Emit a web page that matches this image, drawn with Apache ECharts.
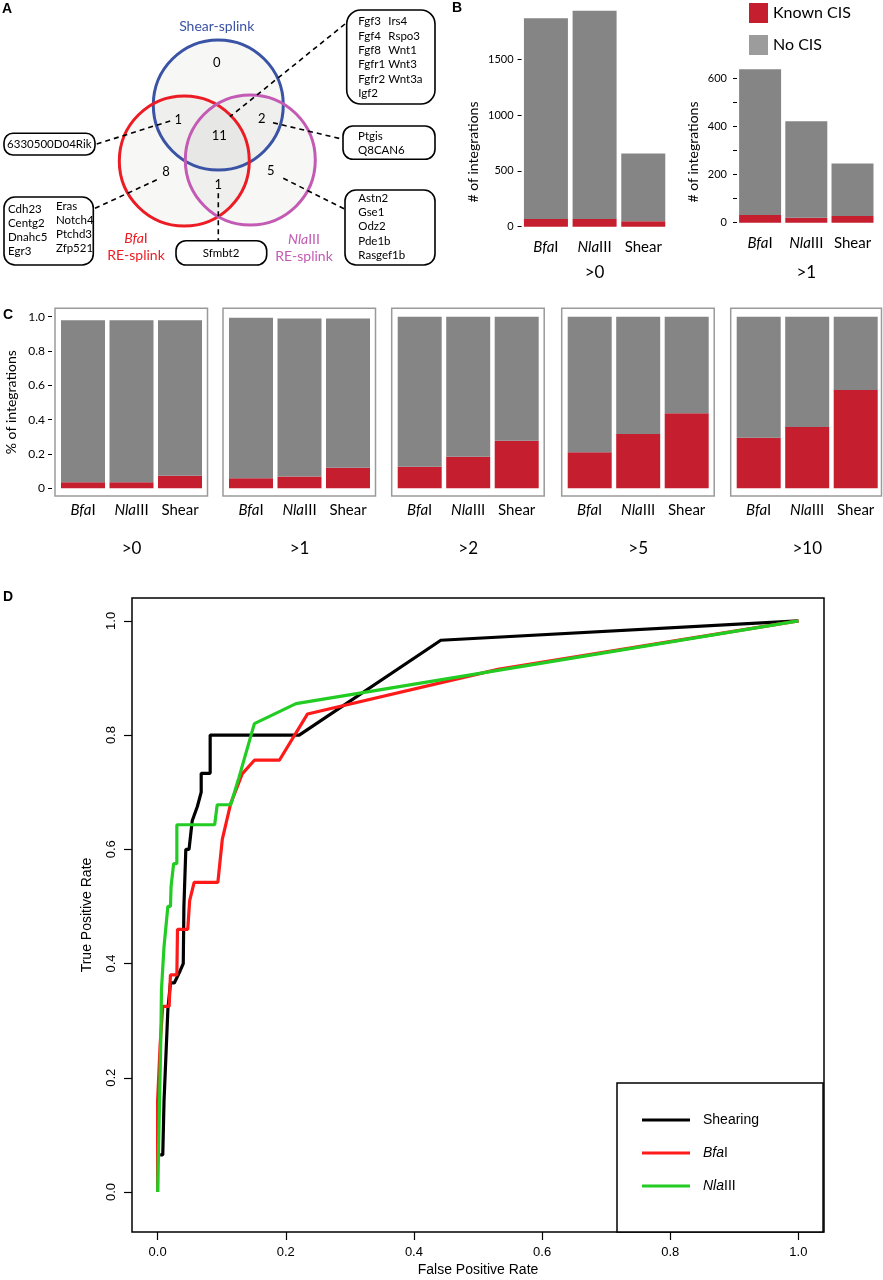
<!DOCTYPE html>
<html><head><meta charset="utf-8">
<script src="https://cdn.jsdelivr.net/npm/echarts@6/dist/echarts.min.js"></script>
<style>html,body{margin:0;padding:0;background:#fff}#c{width:883px;height:1280px}</style>
</head><body><div id="c"></div>
<script>
// ---------------- data ----------------
// Venn (panel A): regions in order shearOnly, shear&BfaI, all, shear&NlaIII, BfaIOnly, BfaI&NlaIII, NlaIIIOnly
const vennCounts = [0, 1, 11, 2, 8, 1, 5];
const genesAll = ['Fgf3','Fgf4','Fgf8','Fgfr1','Fgfr2','Igf2','Irs4','Rspo3','Wnt1','Wnt3','Wnt3a'];
const genesShearBfa = ['6330500D04Rik'];
const genesShearNla = ['Ptgis','Q8CAN6'];
const genesBfaOnly = ['Cdh23','Centg2','Dnahc5','Egr3','Eras','Notch4','Ptchd3','Zfp521'];
const genesBfaNla = ['Sfmbt2'];
const genesNlaOnly = ['Astn2','Gse1','Odz2','Pde1b','Rasgef1b'];

// Panel B / C
const enzymes = ['BfaI','NlaIII','Shear'];
const bThresholds = ['>0','>1'];
const bKnown = [[69, 69, 48], [32, 21, 28]];
const bNoCIS = [[1798, 1867, 609], [606, 401, 218]];
const bTicks0 = [0, 500, 1000, 1500];
const bTicks1 = [0, 200, 400, 600];
const bMinor1 = [0, 100, 200, 300, 400, 500, 600];
const cThresholds = ['>0','>1','>2','>5','>10'];
const cKnown = [[0.035,0.035,0.073],[0.058,0.068,0.12],[0.126,0.184,0.277],[0.21,0.316,0.437],[0.295,0.357,0.573]];
const cNoCIS = [[0.945,0.945,0.907],[0.936,0.922,0.87],[0.874,0.816,0.723],[0.79,0.684,0.563],[0.705,0.643,0.427]];
const cTicks = [0, 0.2, 0.4, 0.6, 0.8, 1.0];

// Panel D ROC
const rocNames = ['Shearing','BfaI','NlaIII'];
const rocShearing = [[0.004,0.065],[0.008,0.065],[0.010,0.16],[0.016,0.32],[0.020,0.366],[0.026,0.366],[0.035,0.387],[0.040,0.40],[0.041,0.50],[0.044,0.60],[0.049,0.60],[0.054,0.65],[0.062,0.675],[0.068,0.70],[0.068,0.733],[0.082,0.733],[0.082,0.80],[0.221,0.80],[0.442,0.966],[1,1]];
const rocBfaI = [[0,0],[0,0.16],[0.004,0.26],[0.008,0.325],[0.018,0.325],[0.020,0.38],[0.030,0.38],[0.031,0.46],[0.047,0.46],[0.050,0.51],[0.057,0.542],[0.094,0.542],[0.101,0.618],[0.114,0.68],[0.132,0.732],[0.151,0.756],[0.190,0.756],[0.234,0.837],[0.531,0.915],[1,1]];
const rocNlaIII = [[0,0],[0.002,0.105],[0.005,0.27],[0.006,0.355],[0.009,0.355],[0.010,0.43],[0.0125,0.43],[0.016,0.50],[0.020,0.50],[0.021,0.535],[0.024,0.535],[0.025,0.575],[0.030,0.575],[0.030,0.643],[0.089,0.643],[0.093,0.678],[0.114,0.678],[0.127,0.726],[0.151,0.82],[0.216,0.855],[1,1]];
const dTicks = [0, 0.2, 0.4, 0.6, 0.8, 1.0];

// ---------------- styles ----------------
const F = 'Lato, "Open Sans", sans-serif';
const FD = '"Liberation Sans", Arial, sans-serif';
const RED = '#c41e2f', GRAY = '#858585';
const enzRich = {
  i: {fontStyle: 'italic', fontSize: 15, fontFamily: F, color: '#000'},
  n: {fontSize: 15, fontFamily: F, color: '#000'}
};
function enzFmt(name) {
  if (name === 'BfaI') return '{i|Bfa}{n|I}';
  if (name === 'NlaIII') return '{i|Nla}{n|III}';
  return '{n|' + name + '}';
}

const chart = echarts.init(document.getElementById('c'), null, {renderer: 'canvas'});

const grids = [], xAxes = [], yAxes = [], series = [];

// Panel B grids (0,1)
const bGrid = [{left: 521.6, top: 3.5, width: 146, height: 223.2, max: 2000, bw: 44, gap: 37},
               {left: 737, top: 6.1, width: 138.6, height: 216.6, max: 900, bw: 42, gap: 41}];
bGrid.forEach((g, i) => {
  grids.push({left: g.left, top: g.top, width: g.width, height: g.height, outerBoundsMode: 'none'});
  xAxes.push({type: 'category', gridIndex: i, data: enzymes,
    axisLine: {show: false, onZero: false}, axisTick: {show: false},
    axisLabel: {formatter: enzFmt, rich: enzRich, margin: 13, interval: 0},
    name: bThresholds[i], nameLocation: 'middle', nameGap: g.gap,
    nameTextStyle: {fontSize: 17, fontFamily: F, color: '#000'}});
  const ticks = i === 0 ? bTicks0 : bMinor1;
  const labels = i === 0 ? bTicks0 : bTicks1;
  yAxes.push({type: 'value', gridIndex: i, min: 0, max: g.max,
    axisLine: {show: false, onZero: false}, splitLine: {show: false},
    axisTick: {show: true, customValues: ticks, length: 4, lineStyle: {color: '#000', width: 1}},
    axisLabel: {customValues: labels, formatter: v => String(v), fontSize: 11, fontFamily: F, color: '#000', margin: i === 0 ? 8 : 10}});
  series.push({type: 'bar', name: 'Known CIS', xAxisIndex: i, yAxisIndex: i, stack: 'b' + i,
    data: bKnown[i], barWidth: g.bw, itemStyle: {color: RED}});
  series.push({type: 'bar', name: 'No CIS', xAxisIndex: i, yAxisIndex: i, stack: 'b' + i,
    data: bNoCIS[i], barWidth: g.bw, itemStyle: {color: GRAY}});
});

// Panel C bar grids (2..6)
const cLeft = [55, 223, 391.7, 561.7, 730.7];
const cTop = 308.3, cH = 187.7, cYmin = -0.045, cYmax = 1.049;
cLeft.forEach((l, k) => {
  const gi = 2 + k;
  grids.push({left: l + 3.75, top: cTop, width: 145.5, height: cH, outerBoundsMode: 'none'});
  xAxes.push({type: 'category', gridIndex: gi, data: enzymes,
    axisLine: {show: false, onZero: false}, axisTick: {show: false}, splitLine: {show: false},
    axisLabel: {formatter: enzFmt, rich: enzRich, margin: 7, interval: 0},
    name: cThresholds[k], nameLocation: 'middle', nameGap: 44,
    nameTextStyle: {fontSize: 17, fontFamily: F, color: '#000'}});
  const first = k === 0;
  yAxes.push({type: 'value', gridIndex: gi, min: cYmin, max: cYmax, show: first, offset: 6.75,
    axisLine: {show: false, onZero: false}, splitLine: {show: false},
    axisTick: {show: first, customValues: cTicks, length: 4, lineStyle: {color: '#000', width: 1}},
    axisLabel: {show: first, customValues: cTicks, formatter: v => v === 0 ? '0' : v.toFixed(1),
      fontSize: 12, fontFamily: F, color: '#000', margin: 7},
    name: first ? '% of integrations' : '', nameLocation: 'middle', nameGap: 34,
    nameTextStyle: {fontSize: 14, fontFamily: F, color: '#000'}});
  series.push({type: 'bar', name: 'Known CIS', xAxisIndex: gi, yAxisIndex: gi, stack: 'c' + k,
    data: cKnown[k], barWidth: 44, itemStyle: {color: RED}});
  series.push({type: 'bar', name: 'No CIS', xAxisIndex: gi, yAxisIndex: gi, stack: 'c' + k,
    data: cNoCIS[k], barWidth: 44, itemStyle: {color: GRAY}});
});

// Panel D grid (7)
grids.push({left: 132, top: 598, width: 692, height: 634, show: true, borderColor: '#000', borderWidth: 1.5,
  backgroundColor: 'transparent', outerBoundsMode: 'none'});
xAxes.push({type: 'value', gridIndex: 7, min: -0.04, max: 1.04,
  axisLine: {show: false, onZero: false}, splitLine: {show: false},
  axisTick: {show: true, customValues: dTicks, length: 8, lineStyle: {color: '#000', width: 1.2}},
  axisLabel: {customValues: dTicks, formatter: v => v.toFixed(1), fontSize: 13, fontFamily: FD, color: '#000', margin: 14},
  name: 'False Positive Rate', nameLocation: 'middle', nameGap: 31,
  nameTextStyle: {fontSize: 14, fontFamily: FD, color: '#000'}});
yAxes.push({type: 'value', gridIndex: 7, min: -0.07, max: 1.04,
  axisLine: {show: false, onZero: false}, splitLine: {show: false},
  axisTick: {show: true, customValues: dTicks, length: 8, lineStyle: {color: '#000', width: 1.2}},
  axisLabel: {customValues: dTicks, formatter: v => v.toFixed(1), fontSize: 13, fontFamily: FD, color: '#000', margin: 14, rotate: 90},
  name: 'True Positive Rate', nameLocation: 'middle', nameGap: 38,
  nameTextStyle: {fontSize: 14, fontFamily: FD, color: '#000'}});
const rocData = [rocShearing, rocBfaI, rocNlaIII];
const rocColors = ['#000000', '#ff1a1a', '#22cc22'];
rocNames.forEach((n, i) => {
  series.push({type: 'line', name: n, xAxisIndex: 7, yAxisIndex: 7, data: rocData[i],
    showSymbol: false, symbol: 'none', lineStyle: {color: rocColors[i], width: 3.2},
    itemStyle: {color: rocColors[i]}, z: 2 + i});
});

// Panel C frame grids (8..12), hidden axes
cLeft.forEach((l, k) => {
  const gi = 8 + k;
  grids.push({left: l, top: cTop, width: k === 4 ? 150.8 : 152.5, height: cH, show: true,
    borderColor: '#9a9a9a', borderWidth: 1.5, backgroundColor: 'transparent', outerBoundsMode: 'none'});
  xAxes.push({type: 'value', gridIndex: gi, show: false, min: 0, max: 1});
  yAxes.push({type: 'value', gridIndex: gi, show: false, min: 0, max: 1});
});

// ---------------- graphic: Venn, panel letters, titles ----------------
const G = [];
function txt(text, x, y, o) {
  o = o || {};
  return {type: 'text', x: x, y: y, rotation: o.rotation || 0, z: 10,
    style: Object.assign({text: text, fontSize: 12, fontFamily: F, fill: '#000', align: 'left', verticalAlign: 'middle'}, o.style || {})};
}
[['A', 2, 9], ['B', 452, 8], ['C', 3, 315], ['D', 3, 597]].forEach(p =>
  G.push(txt(p[0], p[1], p[2], {style: {fontWeight: 'bold', fontSize: 14, fontFamily: FD}})));

const circles = [
  {cx: 218.3, cy: 105, color: '#3a53a4'},
  {cx: 184.3, cy: 161, color: '#ec1c24'},
  {cx: 250.3, cy: 160, color: '#c35bb4'}
];
circles.forEach(c => G.push({type: 'circle', shape: {cx: c.cx, cy: c.cy, r: 65}, z: 1,
  style: {fill: 'rgba(120,120,100,0.06)', stroke: 'none'}}));
circles.forEach(c => G.push({type: 'circle', shape: {cx: c.cx, cy: c.cy, r: 65}, z: 3,
  style: {fill: 'none', stroke: c.color, lineWidth: 3}}));
const vennPos = [[216.7, 63.3], [178.3, 120], [219.3, 136], [261.7, 119.3], [166, 171.7], [218.3, 185], [270.7, 170.7]];
vennCounts.forEach((v, i) => G.push(txt(String(v), vennPos[i][0], vennPos[i][1], {style: {fontSize: 13, align: 'center'}})));
G.push(txt('Shear-splink', 216.7, 26, {style: {fontSize: 14, align: 'center', fill: '#3a53a4'}}));
G.push({type: 'text', x: 136, y: 238.5, z: 10, style: {text: '{i|Bfa}{n|I}', align: 'center', verticalAlign: 'middle',
  rich: {i: {fontStyle: 'italic', fontSize: 14, fontFamily: F, fill: '#ec1c24'}, n: {fontSize: 14, fontFamily: F, fill: '#ec1c24'}}}});
G.push(txt('RE-splink', 136, 255.5, {style: {fontSize: 14, align: 'center', fill: '#ec1c24'}}));
G.push({type: 'text', x: 304, y: 239.5, z: 10, style: {text: '{i|Nla}{n|III}', align: 'center', verticalAlign: 'middle',
  rich: {i: {fontStyle: 'italic', fontSize: 14, fontFamily: F, fill: '#c35bb4'}, n: {fontSize: 14, fontFamily: F, fill: '#c35bb4'}}}});
G.push(txt('RE-splink', 304, 256.5, {style: {fontSize: 14, align: 'center', fill: '#c35bb4'}}));
const dash = [[345, 24, 230, 116.7], [96.7, 144, 173.3, 120], [273, 122.7, 343, 139.3], [95, 208.3, 160, 178.3],
              [218.3, 193.3, 218.3, 240.7], [283.3, 178.3, 345, 209.3]];
dash.forEach(d => G.push({type: 'line', z: 4, shape: {x1: d[0], y1: d[1], x2: d[2], y2: d[3]},
  style: {stroke: '#000', lineWidth: 1.6, lineDash: [5, 4]}}));
const boxes = [[346.7, 10, 88.3, 94, 14], [4, 133.3, 91, 21.7, 9], [343, 126, 92, 33.3, 10], [4, 197, 89.3, 68, 11],
               [176, 240.7, 90.7, 24.3, 10], [345, 190, 90, 75, 11]];
boxes.forEach(b => G.push({type: 'rect', z: 5, shape: {x: b[0], y: b[1], width: b[2], height: b[3], r: b[4]},
  style: {fill: '#fff', stroke: '#000', lineWidth: 1.6}}));
const gs = {fontSize: 11.5, verticalAlign: 'top', lineHeight: 14.3};
G.push(txt(genesAll.slice(0, 6).join('\n'), 358.3, 14.5, {style: gs}));
G.push(txt(genesAll.slice(6).join('\n'), 388.3, 14.5, {style: gs}));
G.push(txt(genesShearBfa.join('\n'), 49.3, 144, {style: {fontSize: 11.5, align: 'center'}}));
G.push(txt(genesShearNla.join('\n'), 358, 129, {style: gs}));
G.push(txt(genesBfaOnly.slice(0, 4).join('\n'), 8, 202, {style: Object.assign({}, gs, {lineHeight: 14.2})}));
G.push(txt(genesBfaOnly.slice(4).join('\n'), 56, 199, {style: Object.assign({}, gs, {lineHeight: 14.1})}));
G.push(txt(genesBfaNla.join('\n'), 221, 253, {style: {fontSize: 11.5, align: 'center'}}));
G.push(txt(genesNlaOnly.join('\n'), 358.3, 191.2, {style: Object.assign({}, gs, {lineHeight: 14.2})}));
G.push(txt('# of integrations', 473, 152, {rotation: Math.PI / 2, style: {fontSize: 14, align: 'center'}}));
G.push(txt('# of integrations', 693, 152, {rotation: Math.PI / 2, style: {fontSize: 14, align: 'center'}}));

const legendRich = {
  i: {fontStyle: 'italic', fontSize: 14, fontFamily: FD, color: '#000'},
  n: {fontSize: 14, fontFamily: FD, color: '#000'}
};

chart.setOption({
  animation: false,
  backgroundColor: '#fff',
  grid: grids,
  xAxis: xAxes,
  yAxis: yAxes,
  series: series,
  legend: [
    {data: [{name: 'Known CIS'}, {name: 'No CIS', itemStyle: {color: '#9c9c9c'}}],
     left: 749, top: 3, orient: 'vertical', icon: 'rect', itemWidth: 19, itemHeight: 20, itemGap: 12,
     padding: 0, selectedMode: false, textStyle: {fontSize: 16, fontFamily: F, color: '#000'}},
    {data: rocNames, left: 617, top: 1083, orient: 'vertical', icon: 'rect', itemWidth: 48, itemHeight: 3,
     itemGap: 17, padding: [29, 64, 38, 25], borderColor: '#000', borderWidth: 1.5, borderRadius: 0,
     backgroundColor: '#fff', selectedMode: false,
     formatter: n => n === 'BfaI' ? '{i|Bfa}{n|I}' : (n === 'NlaIII' ? '{i|Nla}{n|III}' : '{n|' + n + '}'),
     textStyle: {fontSize: 14, fontFamily: FD, color: '#000', lineHeight: 16, rich: legendRich, padding: [0, 0, 0, 8]}}
  ],
  graphic: G
});
</script></body></html>
